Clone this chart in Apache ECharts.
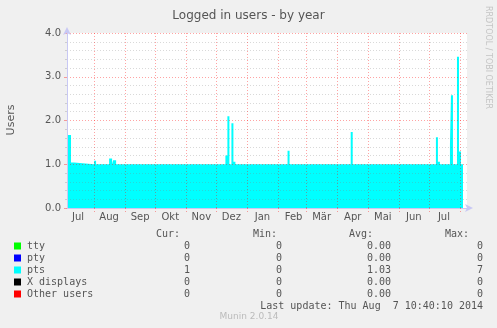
<!DOCTYPE html>
<html>
<head>
<meta charset="utf-8">
<script src="https://cdn.jsdelivr.net/npm/echarts@6/dist/echarts.min.js"></script>
<style>
  html, body { margin: 0; padding: 0; background: #f0f0f0; }
  #chart { width: 497px; height: 328px; }
</style>
</head>
<body>
<div id="chart"></div>
<script>
// day range shown on the x axis (one category per day)
var firstDay = '2013-07-05';
var lastDay = '2014-08-08';
var monthNames = ['Jan', 'Feb', 'Mär', 'Apr', 'Mai', 'Jun', 'Jul', 'Aug', 'Sep', 'Okt', 'Nov', 'Dez'];

// pts (logged in users), [day, value] at each change, value holds until the next day listed
var ptsData = [
    ['2013-07-05', 1.0], ['2013-07-06', 1.67], ['2013-07-09', 1.04], ['2013-07-12', 1.0],
    ['2013-08-01', 1.08], ['2013-08-03', 1.0], ['2013-08-16', 1.13], ['2013-08-19', 1.0],
    ['2013-08-20', 1.09], ['2013-08-23', 1.0],
    ['2013-12-10', 1.2], ['2013-12-12', 2.1], ['2013-12-14', 1.0], ['2013-12-16', 1.94],
    ['2013-12-18', 1.06], ['2013-12-20', 1.0],
    ['2014-02-10', 1.31], ['2014-02-12', 1.0],
    ['2014-04-14', 1.74], ['2014-04-16', 1.0],
    ['2014-07-08', 1.62], ['2014-07-10', 1.06], ['2014-07-12', 1.0],
    ['2014-07-22', 1.46], ['2014-07-23', 2.58], ['2014-07-25', 1.0],
    ['2014-07-29', 3.46], ['2014-07-31', 1.29], ['2014-08-02', 1.0], ['2014-08-04', 1.0]
];

var yTicks = [0, 1, 2, 3, 4];

// legend table
var legendNames = ['tty', 'pty', 'pts', 'X displays', 'Other users'];
var legendColors = ['#00ff00', '#0000ff', '#00ffff', '#000000', '#ff0000'];
var curValues = ['0', '0', '1', '0', '0'];
var minValues = ['0', '0', '0', '0', '0'];
var avgValues = ['0.00', '0.00', '1.03', '0.00', '0.00'];
var maxValues = ['0', '0', '7', '0', '0'];
var lastUpdate = 'Last update: Thu Aug  7 10:40:10 2014';

function dayList(from, to) {
    var out = [];
    var d = new Date(from + 'T00:00:00Z');
    var end = new Date(to + 'T00:00:00Z');
    while (d <= end) {
        out.push(d.toISOString().slice(0, 10));
        d.setUTCDate(d.getUTCDate() + 1);
    }
    return out;
}
var days = dayList(firstDay, lastDay);

var majorGrid = 'rgba(255,0,0,0.36)';
var minorGrid = 'rgba(128,128,128,0.3)';
var axisBlue = '#c8c8f4';
var sans = 'DejaVu Sans';
var mono = 'DejaVu Sans Mono';

var myChart = echarts.init(document.getElementById('chart'));

// legend table as graphic text
var graphics = [];
var rowY = [246, 258, 270, 282, 294];
function txt(x, y, s, align, color, font, size) {
    graphics.push({
        type: 'text', x: x, y: y,
        style: { text: s, fill: color || '#555', font: (size || 10) + 'px "' + (font || mono) + '"',
                 textAlign: align || 'left', textVerticalAlign: 'middle' }
    });
}
txt(180, 234, 'Cur:', 'right');
txt(277, 234, 'Min:', 'right');
txt(373, 234, 'Avg:', 'right');
txt(469, 234, 'Max:', 'right');
legendNames.forEach(function (name, i) {
    graphics.push({
        type: 'rect',
        shape: { x: 14, y: rowY[i] - 3.5, width: 7, height: 7 },
        style: { fill: legendColors[i] }
    });
    txt(27, rowY[i], name, 'left');
    txt(190, rowY[i], curValues[i], 'right');
    txt(282, rowY[i], minValues[i], 'right');
    txt(391, rowY[i], avgValues[i], 'right');
    txt(483, rowY[i], maxValues[i], 'right');
});
txt(483, 306, lastUpdate, 'right');
txt(249, 317, 'Munin 2.0.14', 'center', '#bbbbbb', sans, 9);
graphics.push({
    type: 'text', x: 488, y: 6, rotation: -Math.PI / 2,
    style: { text: 'RRDTOOL / TOBI OETIKER', fill: '#c4c4c4', font: '8px "' + sans + '"',
             textAlign: 'left', textVerticalAlign: 'middle' }
});
graphics.push({
    type: 'text', x: 11, y: 120, rotation: Math.PI / 2,
    style: { text: 'Users', fill: '#555', font: '11px "' + sans + '"',
             textAlign: 'center', textVerticalAlign: 'middle' }
});

var option = {
    backgroundColor: '#f0f0f0',
    animation: false,
    title: {
        text: 'Logged in users - by year',
        left: 'center',
        top: 5,
        textStyle: { fontFamily: sans, fontSize: 12, fontWeight: 'normal', color: '#555' }
    },
    grid: {
        left: 67, right: 30, top: 33, bottom: 120,
        show: true, backgroundColor: '#ffffff', borderWidth: 0
    },
    xAxis: {
        type: 'category',
        data: days,
        boundaryGap: false,
        z: 5,
        axisLine: { show: true, lineStyle: { color: axisBlue }, symbol: ['none', 'arrow'], symbolSize: [6, 8], symbolOffset: [0, 6] },
        axisTick: {
            show: true, length: 4, inside: false,
            interval: function (i, v) { return v.slice(8) === '01'; },
            lineStyle: { color: majorGrid, type: [1, 2] }
        },
        axisLabel: {
            interval: function (i, v) { return v.slice(8) === '16'; },
            formatter: function (v) { return monthNames[parseInt(v.slice(5, 7), 10) - 1]; },
            color: '#555', fontFamily: sans, fontSize: 10, margin: 4
        },
        splitLine: {
            show: true,
            interval: function (i, v) { return v.slice(8) === '01'; },
            lineStyle: { color: majorGrid, type: [1, 2] }
        }
    },
    yAxis: {
        type: 'value',
        min: yTicks[0], max: yTicks[yTicks.length - 1], interval: 1,
        z: 5,
        axisLine: { show: true, lineStyle: { color: axisBlue }, symbol: ['none', 'arrow'], symbolSize: [6, 8], symbolOffset: [0, 6] },
        axisTick: { show: true, length: 3, lineStyle: { color: majorGrid } },
        minorTick: { show: true, splitNumber: 5, length: 2, lineStyle: { color: minorGrid } },
        axisLabel: {
            formatter: function (v) { return v.toFixed(1); },
            color: '#555', fontFamily: sans, fontSize: 10, margin: 6
        },
        splitLine: { show: true, lineStyle: { color: majorGrid, type: [1, 2] } },
        minorSplitLine: { show: true, lineStyle: { color: minorGrid, type: [1, 2] } }
    },
    series: [{
        name: 'pts',
        type: 'line',
        step: 'end',
        data: ptsData,
        showSymbol: false,
        symbol: 'none',
        lineStyle: { width: 0 },
        areaStyle: { color: '#00ffff', opacity: 1 },
        z: 2
    }],
    graphic: graphics
};

myChart.setOption(option);
</script>
</body>
</html>
